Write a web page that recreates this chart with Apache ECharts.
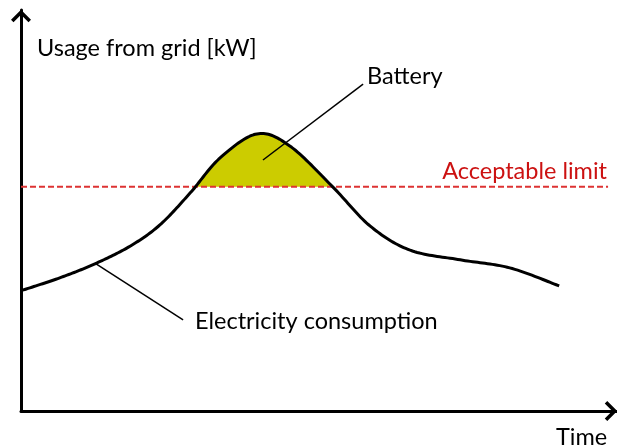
<!DOCTYPE html>
<html>
<head>
<meta charset="utf-8">
<script src="https://cdn.jsdelivr.net/npm/echarts@6/dist/echarts.min.js"></script>
<style>
  html, body { margin: 0; padding: 0; background: #fff; }
  #chart { width: 617px; height: 447px; }
</style>
</head>
<body>
<div id="chart"></div>
<script>
// time (arbitrary units 0-100) and grid usage (arbitrary units 0-100)
const timeValues = [0, 6.5, 12.4, 18.3, 23.3, 28.4, 33.4, 39.6, 45.1, 52.3, 58.6, 65.3, 73.7, 82.0, 90.3]
const usageValues = [30.0, 33.2, 36.7, 41.1, 46.4, 54.4, 63.1, 69.1, 66.1, 55.9, 46.1, 40.1, 37.7, 35.7, 31.2]

const limitValue = 55.9
const limitRange = [0, 98.5]

// leader lines for the annotations: [time, usage]
const batteryPointer = [[40.6, 62.6], [57.4, 81.5]]
const consumptionPointer = [[12.4, 36.9], [27.2, 22.7]]

const labelFont = 'Lato'
const labelSize = 23.5
const arrowPath = 'path://M10 0 L20 10 L17.5 12.5 L10 5 L2.5 12.5 L0 10 Z'

const curve = timeValues.map((t, i) => [t, usageValues[i]])

// catmull-rom through the pixel points, gives a smoother line than smooth:true
function spline(pts, steps) {
  const out = []
  const n = pts.length
  for (let i = 0; i < n - 1; i++) {
    const p0 = pts[Math.max(i - 1, 0)]
    const p1 = pts[i]
    const p2 = pts[i + 1]
    const p3 = pts[Math.min(i + 2, n - 1)]
    for (let s = 0; s < steps; s++) {
      const t = s / steps
      const t2 = t * t
      const t3 = t2 * t
      out.push([0, 1].map(k => 0.5 * (2 * p1[k] + (-p0[k] + p2[k]) * t +
        (2 * p0[k] - 5 * p1[k] + 4 * p2[k] - p3[k]) * t2 +
        (-p0[k] + 3 * p1[k] - 3 * p2[k] + p3[k]) * t3)))
    }
  }
  out.push(pts[n - 1])
  return out
}

function curvePixels(api) {
  return spline(curve.map(p => api.coord(p)), 20)
}

// battery area = part of the curve above the limit
function renderBattery(params, api) {
  if (params.dataIndex !== 0) return null
  const pts = curvePixels(api)
  const limitY = api.coord([0, limitValue])[1]
  const poly = []
  for (let i = 0; i < pts.length; i++) {
    const a = pts[i]
    if (a[1] <= limitY) poly.push(a)
    if (i < pts.length - 1) {
      const b = pts[i + 1]
      if ((a[1] - limitY) * (b[1] - limitY) < 0) {
        const f = (limitY - a[1]) / (b[1] - a[1])
        poly.push([a[0] + f * (b[0] - a[0]), limitY])
      }
    }
  }
  return { type: 'polygon', shape: { points: poly }, style: { fill: '#cccc00' } }
}

function renderCurve(params, api) {
  if (params.dataIndex !== 0) return null
  return {
    type: 'polyline',
    shape: { points: curvePixels(api) },
    style: { stroke: '#000', lineWidth: 3, fill: null, lineJoin: 'round' }
  }
}

const chart = echarts.init(document.getElementById('chart'))

const axisCommon = {
  type: 'value',
  min: 0,
  max: 100,
  axisLine: {
    show: true,
    symbol: ['none', arrowPath],
    symbolSize: [20, 13],
    symbolOffset: [0, -6],
    lineStyle: { color: '#000', width: 3 }
  },
  axisTick: { show: false },
  axisLabel: { show: false },
  splitLine: { show: false }
}

const text = (x, y, str, extra) => ({
  type: 'text',
  x: x,
  y: y,
  z: 10,
  style: Object.assign({ text: str, fontFamily: labelFont, fontSize: labelSize, fill: '#000', verticalAlign: 'middle' }, extra)
})

const option = {
  animation: false,
  grid: { left: 21, right: 0, top: 10, bottom: 36 },
  xAxis: Object.assign({}, axisCommon),
  yAxis: Object.assign({}, axisCommon),
  graphic: [
    text(37, 48, 'Usage from grid [kW]'),
    text(367, 76, 'Battery'),
    text(607, 171, 'Acceptable limit', { fill: '#cc1111', align: 'right' }),
    text(195, 321, 'Electricity consumption'),
    text(556, 437, 'Time')
  ],
  series: [
    {
      type: 'custom',
      data: curve,
      renderItem: renderBattery,
      z: 1
    },
    {
      type: 'line',
      data: limitRange.map(t => [t, limitValue]),
      symbol: 'none',
      lineStyle: { color: '#dd3333', width: 2, type: [6, 3] },
      z: 3
    },
    {
      type: 'custom',
      data: curve,
      renderItem: renderCurve,
      z: 4
    },
    {
      type: 'line',
      data: batteryPointer,
      symbol: 'none',
      lineStyle: { color: '#000', width: 1.5 },
      z: 5
    },
    {
      type: 'line',
      data: consumptionPointer,
      symbol: 'none',
      lineStyle: { color: '#000', width: 1.5 },
      z: 5
    }
  ]
}

chart.setOption(option)
</script>
</body>
</html>
